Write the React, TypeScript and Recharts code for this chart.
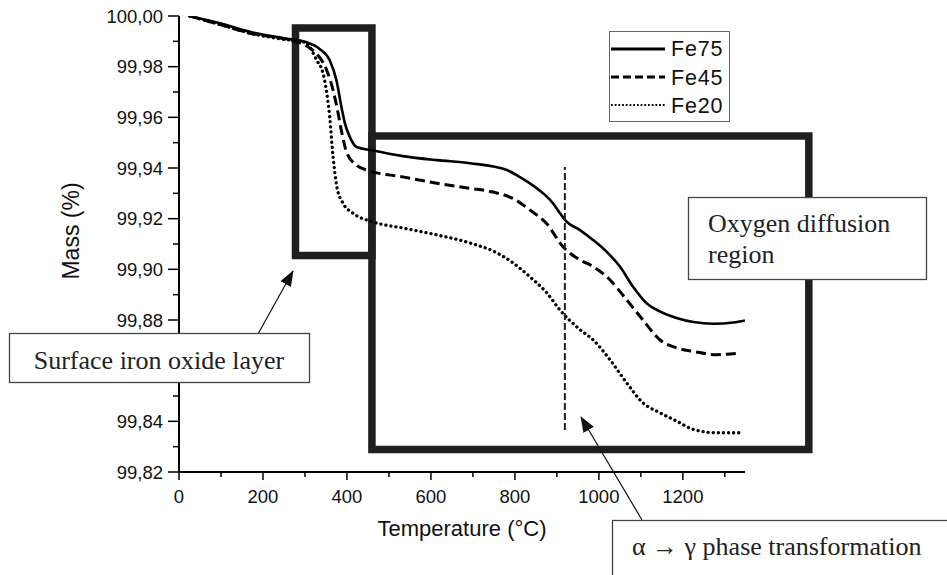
import { LineChart, Line, XAxis, YAxis, ReferenceArea, ReferenceLine } from 'recharts'

// temperature (°C) / mass (%)
const tempFe75 = [25, 100, 175, 250, 304, 335, 359, 375, 387, 395, 407, 423, 459, 533, 614, 693, 781, 812, 852, 891, 907, 923, 955, 986, 1018, 1050, 1081, 1113, 1145, 1185, 1225, 1272, 1320, 1348]
const massFe75 = [100.0, 99.997, 99.9935, 99.9912, 99.9896, 99.987, 99.9825, 99.9746, 99.964, 99.9577, 99.9522, 99.9483, 99.947, 99.9447, 99.9431, 99.9419, 99.9392, 99.9364, 99.932, 99.926, 99.9222, 99.9188, 99.9155, 99.9116, 99.907, 99.9011, 99.8932, 99.8867, 99.8834, 99.8808, 99.8792, 99.8785, 99.879, 99.8798]

const tempFe45 = [25, 100, 175, 250, 300, 319, 352, 367, 379, 388, 400, 423, 447, 533, 614, 693, 748, 795, 836, 876, 914, 955, 986, 1026, 1066, 1105, 1145, 1185, 1225, 1280, 1336]
const massFe45 = [100.0, 99.9965, 99.993, 99.991, 99.9885, 99.9864, 99.9785, 99.9707, 99.9616, 99.9537, 99.9458, 99.9411, 99.9392, 99.9365, 99.934, 99.932, 99.9305, 99.928, 99.9234, 99.918, 99.909, 99.9037, 99.9011, 99.8959, 99.888, 99.88, 99.8722, 99.869, 99.8676, 99.8663, 99.867]

const tempFe20 = [25, 100, 175, 250, 290, 304, 328, 343, 352, 359, 367, 376, 391, 414, 462, 533, 614, 693, 757, 795, 836, 876, 907, 955, 986, 1026, 1066, 1105, 1145, 1185, 1225, 1280, 1336]
const massFe20 = [100.0, 99.9965, 99.993, 99.9908, 99.99, 99.9892, 99.9825, 99.9774, 99.9695, 99.96, 99.9443, 99.9325, 99.926, 99.9222, 99.9187, 99.9163, 99.9136, 99.9104, 99.9065, 99.9026, 99.897, 99.8907, 99.884, 99.8762, 99.8722, 99.8644, 99.8552, 99.8473, 99.8434, 99.8401, 99.8368, 99.8355, 99.8355]

const xTicks = [0, 100, 200, 300, 400, 500, 600, 700, 800, 900, 1000, 1100, 1200, 1300]
const yTicks = [99.82, 99.83, 99.84, 99.85, 99.86, 99.87, 99.88, 99.89, 99.9, 99.91, 99.92, 99.93, 99.94, 99.95, 99.96, 99.97, 99.98, 99.99, 100.0]
// 99,86 sits behind the "Surface iron oxide layer" callout in the figure
const hiddenYLabels = [99.86]

// annotation regions (data coords)
const oxideBox = { x1: 277.4, x2: 459.5, y1: 99.9055, y2: 99.9953 }
const diffusionBox = { x1: 459.5, x2: 1500, y1: 99.8289, y2: 99.9526 }
const phaseLine = { x: 919, y1: 99.8366, y2: 99.9404 }

const rows = (t: number[], m: number[]) => t.map((v, i) => ({ t: v, m: m[i] }))

const SANS = '"Liberation Sans", Arial, sans-serif'
const SERIF = '"Liberation Serif", "Times New Roman", serif'

const fmtY = (v: number) => v.toFixed(2).replace('.', ',')

function BottomTick(p: any) {
  const v = Math.round(p.payload.value)
  const major = v % 200 === 0
  return (
    <g>
      <line x1={p.x} x2={p.x} y1={p.y} y2={p.y + (major ? 8 : 5)} stroke="#000" strokeWidth={1.5} />
      {major && (
        <text x={p.x} y={p.y + 31} textAnchor="middle" fontSize={18.5} fontFamily={SANS} fill="#111">{v}</text>
      )}
    </g>
  )
}

function LeftTick(p: any) {
  const v = p.payload.value
  const major = Math.round(v * 100) % 2 === 0
  const hidden = hiddenYLabels.some(h => Math.abs(h - v) < 1e-6)
  return (
    <g>
      <line x1={p.x} x2={p.x - (major ? 11 : 6)} y1={p.y} y2={p.y} stroke="#000" strokeWidth={1.5} />
      {major && !hidden && (
        <text x={p.x - 16} y={p.y} dy="0.36em" textAnchor="end" fontSize={18.5} fontFamily={SANS} fill="#111">
          {fmtY(v)}
        </text>
      )}
    </g>
  )
}

const TopTick = (p: any) => <line x1={p.x} x2={p.x} y1={p.y} y2={p.y + 9} stroke="#000" strokeWidth={1.5} />
const RightTick = (p: any) => <line x1={p.x} x2={p.x - 8} y1={p.y} y2={p.y} stroke="#000" strokeWidth={1.5} />

function Overlay() {
  return (
    <svg width={947} height={575} style={{ position: 'absolute', left: 0, top: 0, pointerEvents: 'none' }}>
      <defs>
        <marker id="arrowHead" markerWidth={16} markerHeight={12} refX={15} refY={6} orient="auto" markerUnits="userSpaceOnUse">
          <path d="M0,0 L16,6 L0,12 z" fill="#111" />
        </marker>
      </defs>

      {/* legend */}
      <rect x={609.5} y={31.5} width={120} height={90} fill="#fff" stroke="#666" strokeWidth={1} />
      <line x1={611} x2={665} y1={49} y2={49} stroke="#000" strokeWidth={3} />
      <line x1={611} x2={665} y1={77} y2={77} stroke="#000" strokeWidth={3} strokeDasharray="8 4" />
      <line x1={611} x2={665} y1={105} y2={105} stroke="#000" strokeWidth={2.2} strokeDasharray="1.8 1.9" />
      <text x={671} y={56} fontSize={21.5} fontFamily={SANS} letterSpacing={0.8} fill="#111">Fe75</text>
      <text x={671} y={84.5} fontSize={21.5} fontFamily={SANS} letterSpacing={0.8} fill="#111">Fe45</text>
      <text x={671} y={112.5} fontSize={21.5} fontFamily={SANS} letterSpacing={0.8} fill="#111">Fe20</text>

      {/* callouts */}
      <line x1={258} y1={334} x2={293} y2={271} stroke="#111" strokeWidth={1.2} markerEnd="url(#arrowHead)" />
      <rect x={9.5} y={333.5} width={300} height={49} fill="#fff" stroke="#444" strokeWidth={1.3} />
      <text x={159} y={369} textAnchor="middle" fontSize={26} fontFamily={SERIF} fill="#222">Surface iron oxide layer</text>

      <rect x={688.5} y={197.5} width={238} height={82} fill="#fff" stroke="#444" strokeWidth={1.3} />
      <text x={708} y={232} fontSize={26} fontFamily={SERIF} fill="#222">Oxygen diffusion</text>
      <text x={708} y={263} fontSize={26} fontFamily={SERIF} fill="#222">region</text>

      <line x1={642} y1={520} x2={581} y2={417} stroke="#111" strokeWidth={1.2} markerEnd="url(#arrowHead)" />
      <rect x={612.5} y={520.5} width={360} height={80} fill="#fff" stroke="#444" strokeWidth={1.3} />
      <text x={632} y={555} fontSize={26} fontFamily={SERIF} fill="#222">α → γ phase transformation</text>
    </svg>
  )
}

export default function App() {
  return (
    <div style={{ position: 'absolute', left: 0, top: 0, width: 947, height: 575, background: '#fff' }}>
      <LineChart width={947} height={575} margin={{ top: 16, right: 202, left: 0, bottom: 0 }}>
        <XAxis
          dataKey="t"
          type="number"
          domain={[0, 1348]}
          allowDataOverflow
          ticks={xTicks}
          interval={0}
          height={103}
          tickSize={0}
          tickMargin={0}
          tick={(p: any) => <BottomTick {...p} />}
          axisLine={{ stroke: '#000', strokeWidth: 2 }}
          label={{
            content: ({ viewBox }: any) => (
              <text x={viewBox.x + viewBox.width / 2} y={viewBox.y + 64} textAnchor="middle" fontSize={22} fontFamily={SANS} fill="#111">
                Temperature (°C)
              </text>
            ),
          }}
        />
        <XAxis
          xAxisId="top"
          orientation="top"
          dataKey="t"
          type="number"
          domain={[0, 1348]}
          allowDataOverflow
          ticks={xTicks}
          interval={0}
          height={0}
          tickSize={0}
          tickMargin={0}
          tick={(p: any) => <TopTick {...p} />}
          axisLine={{ stroke: '#000', strokeWidth: 2 }}
        />
        <YAxis
          type="number"
          domain={[99.82, 100]}
          allowDataOverflow
          ticks={yTicks}
          interval={0}
          width={179}
          tickSize={0}
          tickMargin={0}
          tick={(p: any) => <LeftTick {...p} />}
          axisLine={{ stroke: '#000', strokeWidth: 2 }}
          label={{
            content: ({ viewBox }: any) => {
              const cx = viewBox.x + 79
              const cy = viewBox.y + viewBox.height / 2 - 13
              return (
                <text x={cx} y={cy} transform={`rotate(-90 ${cx} ${cy})`} textAnchor="middle" fontSize={23} fontFamily={SANS} fill="#111">
                  Mass (%)
                </text>
              )
            },
          }}
        />
        <YAxis
          yAxisId="right"
          orientation="right"
          type="number"
          domain={[99.82, 100]}
          allowDataOverflow
          ticks={yTicks}
          interval={0}
          width={0}
          tickSize={0}
          tickMargin={0}
          tick={(p: any) => <RightTick {...p} />}
          axisLine={{ stroke: '#000', strokeWidth: 2 }}
        />

        <Line data={rows(tempFe75, massFe75)} dataKey="m" type="monotone" stroke="#000" strokeWidth={2.6} dot={false} isAnimationActive={false} />
        <Line data={rows(tempFe45, massFe45)} dataKey="m" type="monotone" stroke="#000" strokeWidth={3} strokeDasharray="10 5" dot={false} isAnimationActive={false} />
        <Line data={rows(tempFe20, massFe20)} dataKey="m" type="monotone" stroke="#000" strokeWidth={3.3} strokeDasharray="0.1 5" strokeLinecap="round" dot={false} isAnimationActive={false} />

        <ReferenceArea {...oxideBox} fill="none" stroke="#1f1f1f" strokeWidth={7.5} ifOverflow="visible" />
        <ReferenceArea {...diffusionBox} fill="none" stroke="#1f1f1f" strokeWidth={7.5} ifOverflow="visible" />
        <ReferenceLine
          segment={[{ x: phaseLine.x, y: phaseLine.y1 }, { x: phaseLine.x, y: phaseLine.y2 }]}
          stroke="#222"
          strokeWidth={2}
          strokeDasharray="7 3"
          ifOverflow="visible"
        />
      </LineChart>
      <Overlay />
    </div>
  )
}
